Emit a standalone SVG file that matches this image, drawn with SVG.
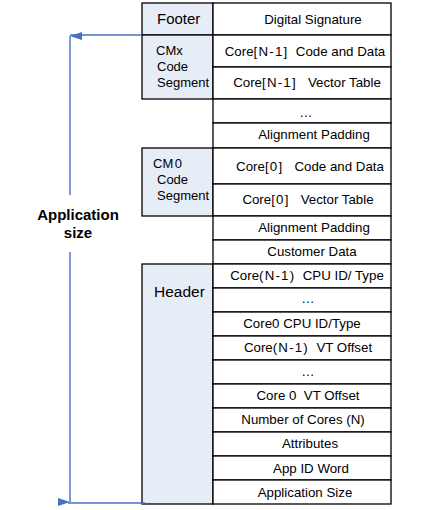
<svg xmlns="http://www.w3.org/2000/svg" width="437" height="510" viewBox="0 0 437 510">
<defs>
<style>
.cell{fill:#fff;stroke:#000;stroke-width:1.3}
.seg{fill:#E7EDF7;stroke:#000;stroke-width:1.3}
.t{font-family:"Liberation Sans",Arial,sans-serif;font-size:13.3px;fill:#000;text-anchor:middle;white-space:pre}
.l{font-family:"Liberation Sans",Arial,sans-serif;font-size:13px;fill:#000}
.big{font-size:15px}
.sp{letter-spacing:1.2px}
.dim{stroke:#4472C4;stroke-width:1.4;fill:none}
.lab{font-family:"Liberation Sans",Arial,sans-serif;font-size:15px;font-weight:bold;fill:#000;text-anchor:middle}
</style>
<marker id="ah" viewBox="0 0 8 12" refX="4" refY="0" markerWidth="8" markerHeight="12" markerUnits="userSpaceOnUse" orient="auto-start-reverse">
<path d="M0,12 L4,0 L8,12 Z" fill="#4472C4"/>
</marker>
</defs>
<rect width="437" height="510" fill="#fff"/>

<g id="left-segments">
<g id="footer"><rect class="seg" x="142" y="3" width="71" height="32"/><text class="l big" x="157" y="24">Footer</text></g>
<g id="cmx"><rect class="seg" x="142" y="35" width="71" height="64"/><text class="l" x="156" y="55">CMx</text><text class="l" x="157" y="71">Code</text><text class="l" x="157" y="87">Segment</text></g>
<g id="cm0"><rect class="seg" x="142" y="148" width="71" height="68"/><text class="l" x="153" y="168">CM<tspan dx="1.5">0</tspan></text><text class="l" x="157" y="184">Code</text><text class="l" x="157" y="200">Segment</text></g>
<g id="header"><rect class="seg" x="142" y="264" width="71" height="240"/><text class="l" x="154" y="297" style="font-size:15.5px">Header</text></g>
</g>

<g id="table">
<g id="r1"><rect class="cell" x="213" y="3" width="178" height="32"/><text class="t" x="313" y="24">Digital Signature</text></g>
<g id="r2"><rect class="cell" x="213" y="35" width="178" height="32"/><text class="t" x="305" y="56">Core<tspan class="sp">[N-1]</tspan>  Code and Data</text></g>
<g id="r3"><rect class="cell" x="213" y="67" width="178" height="32"/><text class="t" x="307" y="87">Core<tspan class="sp">[N-1]</tspan>   Vector Table</text></g>
<g id="r4"><rect class="cell" x="213" y="99" width="178" height="24"/><text class="t" x="306" y="117">…</text></g>
<g id="r5"><rect class="cell" x="213" y="123" width="178" height="25"/><text class="t" x="314" y="139">Alignment Padding</text></g>
<g id="r6"><rect class="cell" x="213" y="148" width="178" height="36"/><text class="t" x="310" y="171">Core<tspan class="sp">[0]</tspan>   Code and Data</text></g>
<g id="r7"><rect class="cell" x="213" y="184" width="178" height="32"/><text class="t" x="308" y="204">Core<tspan class="sp">[0]</tspan>   Vector Table</text></g>
<g id="r8"><rect class="cell" x="213" y="216" width="178" height="24"/><text class="t" x="314" y="232">Alignment Padding</text></g>
<g id="r9"><rect class="cell" x="213" y="240" width="178" height="24"/><text class="t" x="312" y="256">Customer Data</text></g>
<g id="r10"><rect class="cell" x="213" y="264" width="178" height="24"/><text class="t" x="307" y="280">Core<tspan class="sp">(N-1)</tspan>  CPU ID/ Type</text></g>
<g id="r11"><rect class="cell" x="213" y="288" width="178" height="24"/><text class="t" x="308" y="303">…</text></g>
<g id="r12"><rect class="cell" x="213" y="312" width="178" height="24"/><text class="t" x="302" y="328">Core0 CPU ID/Type</text></g>
<g id="r13"><rect class="cell" x="213" y="336" width="178" height="24"/><text class="t" x="308" y="352">Core<tspan class="sp">(N-1)</tspan>  VT Offset</text></g>
<g id="r14"><rect class="cell" x="213" y="360" width="178" height="24"/><text class="t" x="308" y="376">…</text></g>
<g id="r15"><rect class="cell" x="213" y="384" width="178" height="24"/><text class="t" x="308" y="400">Core 0  VT Offset</text></g>
<g id="r16"><rect class="cell" x="213" y="408" width="178" height="24"/><text class="t" x="303" y="424">Number of Cores (N)</text></g>
<g id="r17"><rect class="cell" x="213" y="432" width="178" height="24"/><text class="t" x="310" y="448">Attributes</text></g>
<g id="r18"><rect class="cell" x="213" y="456" width="178" height="24"/><text class="t" x="311" y="473">App ID Word</text></g>
<g id="r19"><rect class="cell" x="213" y="480" width="178" height="24"/><text class="t" x="305" y="497">Application Size</text></g>
</g>

<g id="connectors">
<line class="dim" x1="70" y1="35" x2="142" y2="35"/>
<line class="dim" x1="68" y1="503" x2="145" y2="503"/>
<line class="dim" x1="70" y1="195" x2="70" y2="36" marker-end="url(#ah)"/>
<line class="dim" x1="70" y1="252" x2="70" y2="502" marker-end="url(#ah)"/>
</g>

<g id="app-size-label">
<text class="lab" x="78" y="220">Application</text>
<text class="lab" x="78" y="238">size</text>
</g>
</svg>
